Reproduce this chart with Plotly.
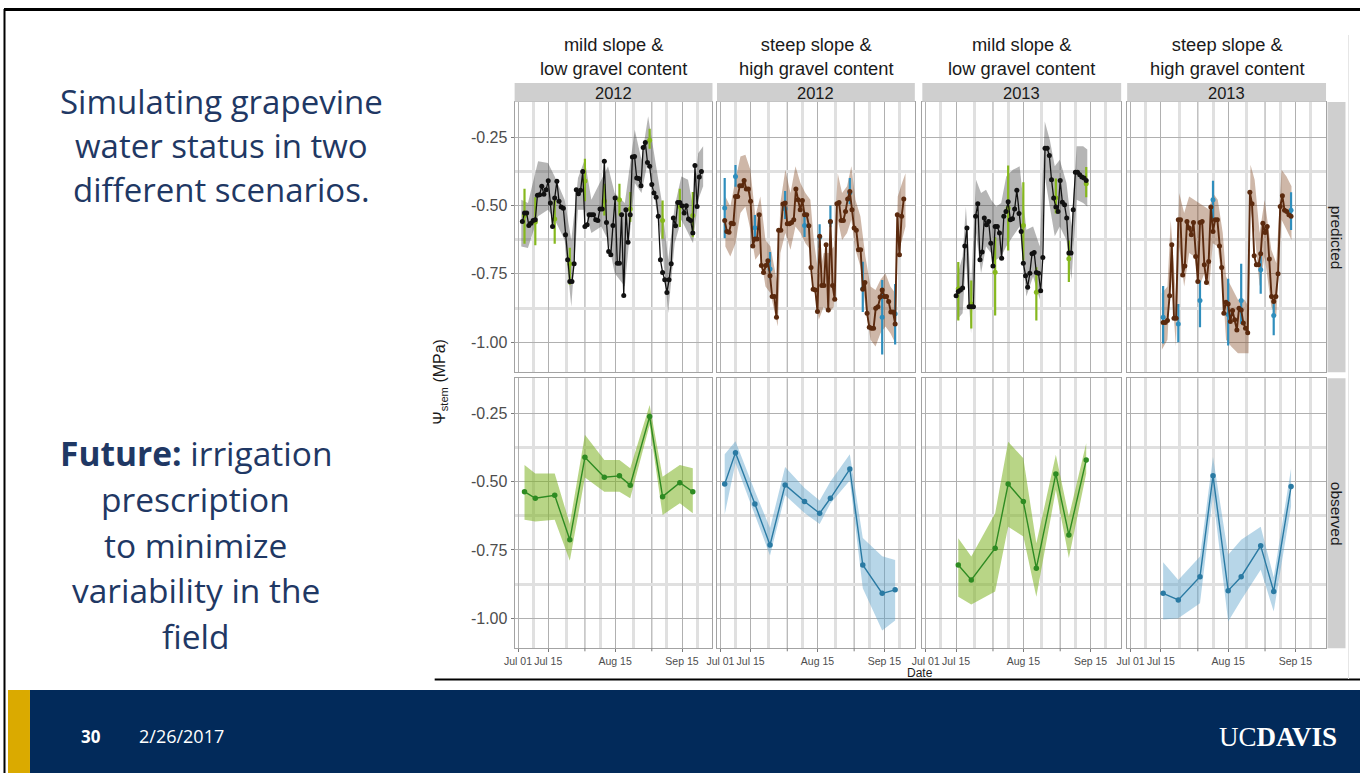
# grapevine stem water potential slide: predicted vs observed, 2 scenarios x 2 years
import pandas as pd
import plotly.graph_objects as go
from plotly.subplots import make_subplots

W, H = 1361, 773

facet_top = ["mild slope &<br>low gravel content", "steep slope &<br>high gravel content",
             "mild slope &<br>low gravel content", "steep slope &<br>high gravel content"]
facet_year = [2012, 2012, 2013, 2013]
facet_kind = ["mild", "steep", "mild", "steep"]
row_label = ["predicted", "observed"]

# predicted stem water potential (MPa), one value per day from pred_start
pred_start = ["2012-07-03", "2012-07-03", "2013-07-15", "2013-07-16"]
pred_mild_2012 = [-0.559, -0.528, -0.528, -0.573, -0.565, -0.555, -0.552, -0.463, -0.461, -0.430,
                  -0.459, -0.443, -0.410, -0.491, -0.577, -0.473, -0.412, -0.485, -0.506, -0.510,
                  -0.607, -0.699, -0.778, -0.778, -0.713, -0.443, -0.457, -0.445, -0.376, -0.577,
                  -0.571, -0.534, -0.534, -0.534, -0.552, -0.555, -0.513, -0.513, -0.339, -0.562,
                  -0.668, -0.680, -0.573, -0.473, -0.711, -0.711, -0.534, -0.829, -0.516, -0.635,
                  -0.534, -0.323, -0.321, -0.400, -0.402, -0.428, -0.288, -0.270, -0.343, -0.357,
                  -0.424, -0.455, -0.470, -0.540, -0.699, -0.745, -0.772, -0.818, -0.772, -0.713,
                  -0.546, -0.574, -0.489, -0.489, -0.501, -0.528, -0.501, -0.550, -0.555, -0.601,
                  -0.354, -0.504, -0.396, -0.376]
pred_steep_2012 = [-0.555, -0.595, -0.598, -0.565, -0.567, -0.467, -0.467, -0.428, -0.428, -0.409,
                   -0.440, -0.440, -0.485, -0.648, -0.623, -0.623, -0.534, -0.720, -0.745, -0.720,
                   -0.702, -0.757, -0.833, -0.833, -0.909, -0.591, -0.591, -0.495, -0.491, -0.567,
                   -0.567, -0.562, -0.552, -0.440, -0.479, -0.516, -0.482, -0.534, -0.534, -0.574,
                   -0.727, -0.806, -0.809, -0.888, -0.613, -0.793, -0.793, -0.644, -0.882, -0.559,
                   -0.793, -0.843, -0.494, -0.489, -0.555, -0.555, -0.522, -0.477, -0.449, -0.516,
                   -0.583, -0.591, -0.662, -0.662, -0.806, -0.782, -0.894, -0.945, -0.949, -0.949,
                   -0.876, -0.870, -0.835, -0.809, -0.833, -0.833, -0.851, -0.890, -0.890, -0.933,
                   -0.534, -0.680, -0.540, -0.477]
pred_mild_2013 = [-0.830, -0.815, -0.809, -0.802, -0.648, -0.583, -0.870, -0.870, -0.870, -0.540,
                  -0.494, -0.699, -0.670, -0.546, -0.571, -0.559, -0.638, -0.721, -0.577, -0.577,
                  -0.601, -0.693, -0.540, -0.522, -0.487, -0.552, -0.549, -0.513, -0.445, -0.530,
                  -0.595, -0.711, -0.757, -0.799, -0.748, -0.677, -0.672, -0.745, -0.748, -0.812,
                  -0.690, -0.291, -0.291, -0.318, -0.406, -0.473, -0.506, -0.522, -0.409, -0.488,
                  -0.498, -0.546, -0.674, -0.674, -0.516, -0.379, -0.379, -0.388, -0.396, -0.400,
                  -0.409]
pred_steep_2013 = [-0.928, -0.928, -0.921, -0.830, -0.644, -0.912, -0.912, -0.552, -0.552, -0.754,
                   -0.721, -0.559, -0.583, -0.607, -0.562, -0.687, -0.778, -0.562, -0.559, -0.717,
                   -0.782, -0.705, -0.506, -0.595, -0.552, -0.552, -0.648, -0.727, -0.894, -0.854,
                   -0.860, -0.924, -0.884, -0.918, -0.955, -0.876, -0.882, -0.930, -0.949, -0.965,
                   -0.452, -0.494, -0.684, -0.717, -0.717, -0.677, -0.565, -0.599, -0.577, -0.696,
                   -0.833, -0.851, -0.833, -0.750, -0.504, -0.465, -0.518, -0.522, -0.534, -0.540]

# prediction interval (days after Jul 01, upper, lower)
band_day_mild_2012 = [1.5, 4.6, 9.3, 13.9, 17.0, 21.6, 24.7, 27.8, 30.9, 34.0, 38.6, 41.7, 44.8,
                      49.5, 54.1, 57.2, 60.3, 63.4, 66.5, 69.6, 72.6, 75.7, 78.8, 81.1, 83.5, 85.8]
band_hi_mild_2012 = [-0.479, -0.491, -0.339, -0.345, -0.394, -0.479, -0.626, -0.400, -0.333, -0.479,
                     -0.406, -0.357, -0.455, -0.491, -0.223, -0.333, -0.174, -0.333, -0.479, -0.699,
                     -0.504, -0.394, -0.406, -0.504, -0.309, -0.284]
band_lo_mild_2012 = [-0.650, -0.656, -0.540, -0.516, -0.552, -0.626, -0.870, -0.516, -0.516, -0.601,
                     -0.577, -0.626, -0.748, -0.796, -0.418, -0.455, -0.333, -0.479, -0.626, -0.894,
                     -0.638, -0.552, -0.601, -0.638, -0.479, -0.430]

band_day_steep_2012 = [2.3, 4.6, 7.0, 9.3, 11.6, 13.9, 16.2, 18.5, 20.9, 23.2,
                       25.5, 26.6, 27.8, 30.1, 32.5, 34.8, 37.1, 39.4, 41.7, 43.3,
                       45.6, 47.9, 50.2, 52.6, 54.4, 56.4, 58.7, 60.7, 62.6, 64.9,
                       67.2, 69.6, 71.9, 74.2, 76.5, 78.8, 81.1, 82.2, 84.2, 85.8]
band_hi_steep_2012 = [-0.467, -0.504, -0.406, -0.321, -0.315, -0.370, -0.540, -0.467, -0.626, -0.650,
                      -0.748, -0.796, -0.491, -0.370, -0.455, -0.357, -0.418, -0.455, -0.479, -0.626,
                      -0.760, -0.674, -0.674, -0.650, -0.382, -0.455, -0.430, -0.357, -0.479, -0.540,
                      -0.687, -0.796, -0.809, -0.772, -0.748, -0.796, -0.821, -0.467, -0.418, -0.382]
band_lo_steep_2012 = [-0.650, -0.687, -0.638, -0.528, -0.504, -0.589, -0.699, -0.674, -0.796, -0.821,
                      -0.906, -0.943, -0.674, -0.601, -0.662, -0.577, -0.601, -0.638, -0.662, -0.796,
                      -0.918, -0.870, -0.894, -0.870, -0.552, -0.626, -0.601, -0.552, -0.662, -0.723,
                      -0.870, -0.991, -1.016, -0.967, -0.943, -0.967, -1.004, -0.674, -0.626, -0.577]

band_day_mild_2013 = [14.4, 17.0, 18.5, 20.9, 23.2, 25.5, 27.8, 30.1, 32.5, 34.8, 37.1, 40.2, 43.3,
                      46.4, 49.5, 52.6, 54.9, 57.2, 59.5, 61.8, 64.9, 67.2, 69.6, 72.6, 74.5]
band_hi_mild_2013 = [-0.760, -0.687, -0.504, -0.796, -0.406, -0.455, -0.443, -0.479, -0.504, -0.491,
                     -0.394, -0.370, -0.357, -0.589, -0.577, -0.650, -0.193, -0.260, -0.357, -0.333,
                     -0.418, -0.577, -0.284, -0.284, -0.296]
band_lo_mild_2013 = [-0.918, -0.894, -0.699, -0.967, -0.601, -0.748, -0.650, -0.674, -0.699, -0.687,
                     -0.650, -0.613, -0.577, -0.833, -0.760, -0.845, -0.394, -0.504, -0.613, -0.577,
                     -0.626, -0.772, -0.479, -0.491, -0.504]

band_day_steep_2013 = [14.4, 17.0, 18.5, 20.9, 22.4, 24.7, 27.0, 29.4, 31.7, 34.0, 36.3, 37.9, 40.2, 42.5,
                       44.0, 46.4, 49.5, 52.6, 54.4, 55.3, 57.2, 59.5, 61.8, 64.9, 67.2, 69.6, 71.9, 74.2]
band_hi_steep_2013 = [-0.821, -0.796, -0.552, -0.833, -0.455, -0.528, -0.467, -0.479, -0.491, -0.504,
                      -0.516, -0.455, -0.479, -0.601, -0.760, -0.796, -0.845, -0.845, -0.870, -0.351,
                      -0.406, -0.601, -0.479, -0.662, -0.711, -0.370, -0.394, -0.430]
band_lo_steep_2013 = [-1.028, -0.991, -0.748, -1.016, -0.650, -0.796, -0.674, -0.687, -0.796, -0.748,
                      -0.796, -0.638, -0.650, -0.796, -0.991, -1.016, -1.040, -1.040, -1.040, -0.516,
                      -0.601, -0.796, -0.687, -0.870, -0.906, -0.552, -0.589, -0.626]

# field observations (mean, upper, lower)
obs_date_mild_2012 = ["2012-07-04", "2012-07-09", "2012-07-18", "2012-07-25", "2012-08-01", "2012-08-10",
                      "2012-08-17", "2012-08-22", "2012-08-31", "2012-09-06", "2012-09-14", "2012-09-20"]
obs_mild_2012 = [-0.537, -0.561, -0.550, -0.713, -0.411, -0.484, -0.479, -0.513, -0.262, -0.555, -0.504, -0.537]
obs_hi_mild_2012 = [-0.439, -0.470, -0.470, -0.655, -0.329, -0.421, -0.421, -0.451, -0.220, -0.482, -0.439, -0.451]
obs_lo_mild_2012 = [-0.640, -0.646, -0.640, -0.790, -0.485, -0.537, -0.537, -0.561, -0.293, -0.622, -0.579, -0.616]

obs_date_steep_2012 = ["2012-07-03", "2012-07-08", "2012-07-17", "2012-07-24", "2012-07-31", "2012-08-09",
                       "2012-08-16", "2012-08-21", "2012-08-30", "2012-09-05", "2012-09-14", "2012-09-20"]
obs_steep_2012 = [-0.509, -0.394, -0.582, -0.732, -0.512, -0.573, -0.616, -0.561, -0.454, -0.805, -0.909, -0.896]
obs_hi_steep_2012 = [-0.400, -0.352, -0.535, -0.670, -0.447, -0.523, -0.569, -0.500, -0.400, -0.706, -0.773, -0.787]
obs_lo_steep_2012 = [-0.620, -0.432, -0.620, -0.770, -0.550, -0.615, -0.655, -0.580, -0.496, -0.890, -1.045, -1.008]

obs_date_mild_2013 = ["2013-07-16", "2013-07-22", "2013-08-02", "2013-08-08", "2013-08-15",
                      "2013-08-21", "2013-08-30", "2013-09-05", "2013-09-13"]
obs_mild_2013 = [-0.805, -0.860, -0.744, -0.509, -0.573, -0.817, -0.472, -0.695, -0.421]
obs_hi_mild_2013 = [-0.707, -0.774, -0.616, -0.354, -0.415, -0.726, -0.402, -0.628, -0.360]
obs_lo_mild_2013 = [-0.921, -0.950, -0.902, -0.665, -0.701, -0.921, -0.530, -0.780, -0.470]

obs_date_steep_2013 = ["2013-07-16", "2013-07-23", "2013-08-02", "2013-08-08", "2013-08-15",
                       "2013-08-21", "2013-08-30", "2013-09-05", "2013-09-13"]
obs_steep_2013 = [-0.909, -0.933, -0.848, -0.479, -0.899, -0.848, -0.735, -0.902, -0.518]
obs_hi_steep_2013 = [-0.795, -0.860, -0.774, -0.410, -0.768, -0.713, -0.665, -0.850, -0.452]
obs_lo_steep_2013 = [-1.005, -1.000, -0.945, -0.550, -1.012, -0.933, -0.823, -0.975, -0.590]

x_labels = ["Jul 01", "Jul 15", "Aug 15", "Sep 15"]
x_label_days = ["07-01", "07-15", "08-15", "09-15"]
x_unlabelled_days = ["08-01", "09-01"]
x_minor_days = ["07-08", "07-23 12:00", "08-08", "08-23 12:00", "09-08", "09-22"]
y_ticks = [-1.00, -0.75, -0.50, -0.25]
y_minor = [-0.875, -0.625, -0.375, -0.125]

slide_lines_top = ["Simulating grapevine", "water status in two", "different scenarios."]
slide_lines_bottom = ["<b>Future:</b> irrigation", "prescription", "to minimize",
                      "variability in the", "field"]

# ---- styling ----
styles = {
    "mild": dict(line="#111111", lw=1.3, band="rgba(60,60,60,0.38)", bar="#86b81e",
                 obs_line="#2e8b22", obs_band="rgba(125,178,35,0.55)"),
    "steep": dict(line="#5b2a0e", lw=1.9, band="rgba(125,65,25,0.38)", bar="#2f8ebd",
                  obs_line="#2a7aa3", obs_band="rgba(95,165,205,0.45)"),
}
CHART_FONT = "Liberation Sans, Arial, sans-serif"
SLIDE_FONT = "Open Sans, sans-serif"
NAVY = "#022a5a"
TEXT_NAVY = "#1F3864"
GRID_MAJOR = "#b0b0b0"
GRID_MINOR = "#e0e0e0"
cols_px = [(515, 713), (717.5, 915.5), (923, 1122), (1128, 1327)]
rows_px = [(102, 372.3), (378.3, 648.3)]


def fx(x):
    return x / W


def fy(y):
    return 1 - y / H


panels = [
    (pred_mild_2012, band_day_mild_2012, band_hi_mild_2012, band_lo_mild_2012,
     obs_date_mild_2012, obs_mild_2012, obs_hi_mild_2012, obs_lo_mild_2012),
    (pred_steep_2012, band_day_steep_2012, band_hi_steep_2012, band_lo_steep_2012,
     obs_date_steep_2012, obs_steep_2012, obs_hi_steep_2012, obs_lo_steep_2012),
    (pred_mild_2013, band_day_mild_2013, band_hi_mild_2013, band_lo_mild_2013,
     obs_date_mild_2013, obs_mild_2013, obs_hi_mild_2013, obs_lo_mild_2013),
    (pred_steep_2013, band_day_steep_2013, band_hi_steep_2013, band_lo_steep_2013,
     obs_date_steep_2013, obs_steep_2013, obs_hi_steep_2013, obs_lo_steep_2013),
]

fig = make_subplots(rows=2, cols=4)
shapes = []
annotations = []

for c, (pred, bday, bhi, blo, odate, ov, ohi, olo) in enumerate(panels):
    st = styles[facet_kind[c]]
    year = facet_year[c]
    jul1 = pd.Timestamp(f"{year}-07-01")
    pdates = pd.date_range(pred_start[c], periods=len(pred), freq="D")
    bdates = [(jul1 + pd.Timedelta(days=d)).round("min") for d in bday]
    odates = pd.to_datetime(odate)

    # --- predicted row ---
    fig.add_trace(go.Scatter(x=list(bdates) + list(bdates[::-1]), y=bhi + blo[::-1],
                             fill="toself", fillcolor=st["band"], line=dict(width=0),
                             mode="lines", hoverinfo="skip"), row=1, col=c + 1)
    fig.add_trace(go.Scatter(x=odates, y=ov, mode="markers",
                             marker=dict(size=5, color=st["bar"]),
                             error_y=dict(type="data", symmetric=False,
                                          array=[h - v for h, v in zip(ohi, ov)],
                                          arrayminus=[v - l for v, l in zip(ov, olo)],
                                          color=st["bar"], thickness=2.2, width=0)),
                  row=1, col=c + 1)
    fig.add_trace(go.Scatter(x=pdates, y=pred, mode="lines+markers",
                             line=dict(color=st["line"], width=st["lw"]),
                             marker=dict(size=5, color=st["line"])), row=1, col=c + 1)

    # --- observed row ---
    fig.add_trace(go.Scatter(x=list(odates) + list(odates[::-1]), y=ohi + olo[::-1],
                             fill="toself", fillcolor=st["obs_band"], line=dict(width=0),
                             mode="lines", hoverinfo="skip"), row=2, col=c + 1)
    fig.add_trace(go.Scatter(x=odates, y=ov, mode="lines+markers",
                             line=dict(color=st["obs_line"], width=1.4),
                             marker=dict(size=5.5, color=st["obs_line"])), row=2, col=c + 1)

    for r in range(2):
        x0, x1 = cols_px[c]
        y0, y1 = rows_px[r]
        n = r * 4 + c + 1
        xname = "x" if n == 1 else f"x{n}"
        fig.update_xaxes(
            domain=[fx(x0), fx(x1)],
            range=[f"{year}-06-29 10:00", f"{year}-09-29 03:00"],
            tickmode="array",
            tickvals=[f"{year}-{d}" for d in x_label_days],
            ticktext=x_labels,
            showticklabels=(r == 1), ticks="outside" if r == 1 else "",
            ticklen=3, tickcolor="#7a7a7a",
            tickfont=dict(family=CHART_FONT, size=10.5, color="#4d4d4d"),
            showgrid=True, gridcolor=GRID_MAJOR, gridwidth=1.2,
            minor=dict(tickmode="array", tickvals=[f"{year}-{d}" for d in x_minor_days],
                       showgrid=True, gridcolor=GRID_MINOR, gridwidth=3),
            showline=True, mirror=True, linecolor="#a3a3a3", linewidth=1,
            zeroline=False, row=r + 1, col=c + 1)
        fig.update_yaxes(
            domain=[fy(y1), fy(y0)],
            range=[-1.11, -0.122],
            tickmode="array", tickvals=y_ticks, ticktext=[f"{v:.2f}" for v in y_ticks],
            showticklabels=(c == 0), ticks="outside" if c == 0 else "",
            ticklen=3, tickcolor="#7a7a7a",
            tickfont=dict(family=CHART_FONT, size=16, color="#4d4d4d"),
            showgrid=True, gridcolor=GRID_MAJOR, gridwidth=1.2,
            minor=dict(tickmode="array", tickvals=y_minor,
                       showgrid=True, gridcolor=GRID_MINOR, gridwidth=3),
            showline=True, mirror=True, linecolor="#a3a3a3", linewidth=1,
            zeroline=False, row=r + 1, col=c + 1)
        # unlabelled month-start breaks: full gridline plus a bare tick on the bottom row
        for d in x_unlabelled_days:
            shapes.append(dict(type="line", xref=xname, yref="paper",
                               x0=f"{year}-{d}", x1=f"{year}-{d}", y0=fy(y1), y1=fy(y0),
                               layer="below", line=dict(color=GRID_MAJOR, width=1.2)))
            if r == 1:
                shapes.append(dict(type="line", xref=xname, yref="paper",
                                   x0=f"{year}-{d}", x1=f"{year}-{d}", y0=fy(y1), y1=fy(y1 + 3),
                                   line=dict(color="#7a7a7a", width=1)))

# facet strips and headers
for c in range(4):
    x0, x1 = cols_px[c]
    xm = (x0 + x1) / 2
    shapes.append(dict(type="rect", xref="paper", yref="paper", x0=fx(x0), x1=fx(x1),
                       y0=fy(101.8), y1=fy(83), fillcolor="#cfcfcf", line=dict(width=0)))
    annotations.append(dict(x=fx(xm), y=fy(92.5), xref="paper", yref="paper", text=str(facet_year[c]),
                            showarrow=False, xanchor="center", yanchor="middle",
                            font=dict(family=CHART_FONT, size=16.5, color="#1a1a1a")))
    annotations.append(dict(x=fx(xm), y=fy(56.5), xref="paper", yref="paper", text=facet_top[c],
                            showarrow=False, xanchor="center", yanchor="middle",
                            font=dict(family=CHART_FONT, size=18.3, color="#1a1a1a")))
for r in range(2):
    y0, y1 = rows_px[r]
    shapes.append(dict(type="rect", xref="paper", yref="paper", x0=fx(1328.5), x1=fx(1346.5),
                       y0=fy(y1), y1=fy(y0), fillcolor="#cfcfcf", line=dict(width=0)))
    annotations.append(dict(x=fx(1337.5), y=fy((y0 + y1) / 2), xref="paper", yref="paper",
                            text=row_label[r], textangle=90, showarrow=False,
                            xanchor="center", yanchor="middle",
                            font=dict(family=CHART_FONT, size=15.5, color="#1a1a1a")))

annotations.append(dict(x=fx(441), y=fy(382), xref="paper", yref="paper",
                        text="Ψ<sub>stem</sub> (MPa)", textangle=-90, showarrow=False,
                        xanchor="center", yanchor="middle",
                        font=dict(family=CHART_FONT, size=16, color="#1a1a1a")))
annotations.append(dict(x=fx(921), y=fy(673), xref="paper", yref="paper", text="Date",
                        showarrow=False, xanchor="center", yanchor="middle",
                        font=dict(family=CHART_FONT, size=12, color="#1a1a1a")))

# slide text, one annotation per line to keep the slide's line spacing
for i, line in enumerate(slide_lines_top):
    annotations.append(dict(x=fx(222), y=fy(102 + 44 * i), xref="paper", yref="paper", text=line,
                            showarrow=False, xanchor="center", yanchor="middle",
                            font=dict(family=SLIDE_FONT, size=33, color=TEXT_NAVY)))
for i, line in enumerate(slide_lines_bottom):
    annotations.append(dict(x=fx(196), y=fy(453 + 45.8 * i), xref="paper", yref="paper", text=line,
                            showarrow=False, xanchor="center", yanchor="middle",
                            font=dict(family=SLIDE_FONT, size=33.5, color=TEXT_NAVY)))

# slide frame and footer
shapes += [
    dict(type="line", xref="paper", yref="paper", x0=fx(4), x1=1, y0=fy(9.5), y1=fy(9.5),
         line=dict(color="black", width=3)),
    dict(type="line", xref="paper", yref="paper", x0=fx(4.5), x1=fx(4.5), y0=fy(9), y1=0,
         line=dict(color="black", width=2)),
    dict(type="line", xref="paper", yref="paper", x0=fx(435), x1=1, y0=fy(679.5), y1=fy(679.5),
         line=dict(color="black", width=2)),
    dict(type="line", xref="paper", yref="paper", x0=fx(1349.5), x1=fx(1349.5), y0=fy(679), y1=fy(35),
         line=dict(color="#e6e6e6", width=1)),
    dict(type="rect", xref="paper", yref="paper", x0=fx(30), x1=1, y0=0, y1=fy(690),
         fillcolor=NAVY, line=dict(width=0)),
    dict(type="rect", xref="paper", yref="paper", x0=fx(8), x1=fx(30), y0=0, y1=fy(690),
         fillcolor="#DAAA00", line=dict(width=0)),
]
annotations += [
    dict(x=fx(91), y=fy(736), xref="paper", yref="paper", text="<b>30</b>", showarrow=False,
         xanchor="center", yanchor="middle", font=dict(family=SLIDE_FONT, size=17, color="white")),
    dict(x=fx(137), y=fy(736), xref="paper", yref="paper", text="2/26/2017", showarrow=False,
         xanchor="left", yanchor="middle", font=dict(family=SLIDE_FONT, size=18, color="white")),
    dict(x=fx(1340), y=fy(737), xref="paper", yref="paper", text="UC<b>DAVIS</b>", showarrow=False,
         xanchor="right", yanchor="middle",
         font=dict(family="Liberation Serif, serif", size=27, color="white")),
]

fig.update_layout(width=W, height=H, margin=dict(l=0, r=0, t=0, b=0),
                  paper_bgcolor="white", plot_bgcolor="white", showlegend=False,
                  shapes=shapes, annotations=annotations)

# page has a default 8px body margin; drop it so the figure sits at the window origin
fig.write_html("out.html", config={"displayModeBar": False},
               post_script="document.body.style.margin='0';")
